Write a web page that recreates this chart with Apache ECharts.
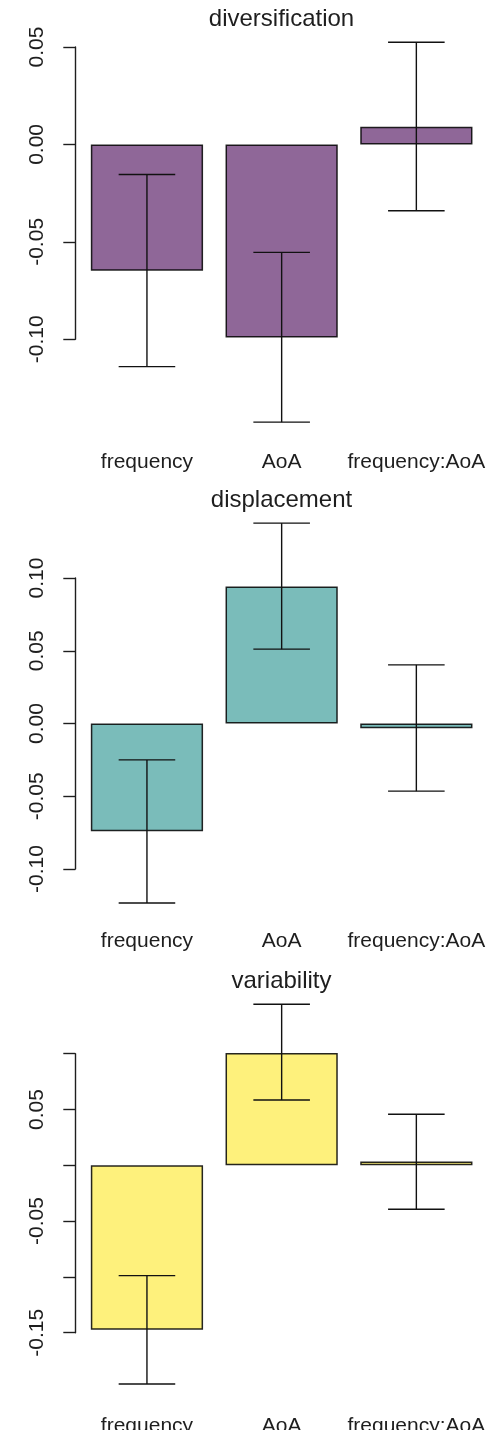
<!DOCTYPE html>
<html>
<head>
<meta charset="utf-8">
<script src="https://cdn.jsdelivr.net/npm/echarts@6/dist/echarts.min.js"></script>
<style>
html,body{margin:0;padding:0;background:#fff;overflow:hidden;}
#chart{width:492px;height:1430px;}
</style>
</head>
<body>
<div id="chart"></div>
<script>
// ---- data ----
var categories = ['frequency', 'AoA', 'frequency:AoA'];
var panelTitles = ['diversification', 'displacement', 'variability'];

var divEstimate = [-0.0648, -0.0991, 0.0091];
var divLower    = [-0.1140, -0.1425, -0.0340];
var divUpper    = [-0.0154, -0.0554, 0.0524];

var dispEstimate = [-0.0741, 0.0942, -0.0033];
var dispLower    = [-0.1234, 0.0511, -0.0465];
var dispUpper    = [-0.0250, 0.1377, 0.0403];

var varEstimate = [-0.1473, 0.1016, 0.0033];
var varLower    = [-0.1960, 0.0585, -0.0394];
var varUpper    = [-0.0989, 0.1443, 0.0457];

var divTickLabels  = ['-0.10', '-0.05', '0.00', '0.05'];
var dispTickLabels = ['-0.10', '-0.05', '0.00', '0.05', '0.10'];
var varTickLabels  = ['-0.15', '-0.05', '0.05'];

// ---- build ----
var panels = [
  {title: panelTitles[0], est: divEstimate, lo: divLower, hi: divUpper, labels: divTickLabels,
   min: -0.10, max: 0.05, color: '#8F6798', top: 47, height: 292.3, titleTop: 2.5, labelMargin: 112},
  {title: panelTitles[1], est: dispEstimate, lo: dispLower, hi: dispUpper, labels: dispTickLabels,
   min: -0.10, max: 0.10, color: '#7ABCBA', top: 578, height: 291, titleTop: 483, labelMargin: 62},
  {title: panelTitles[2], est: varEstimate, lo: varLower, hi: varUpper, labels: varTickLabels,
   min: -0.15, max: 0.10, color: '#FEF17C', top: 1053.7, height: 279, titleTop: 964, labelMargin: 83}
];

var FONT = '"Liberation Sans", Arial, sans-serif';
var INK = '#1e1e1e';

var option = {
  animation: false,
  backgroundColor: '#fff',
  title: [], grid: [], xAxis: [], yAxis: [], series: []
};

panels.forEach(function (p, i) {
  option.title.push({
    text: p.title, left: 276.5, top: p.titleTop, textAlign: 'center',
    textStyle: {fontFamily: FONT, fontSize: 24, fontWeight: 'normal', color: INK}
  });
  option.grid.push({left: 79.6, width: 404.1, top: p.top, height: p.height,
    containLabel: false, outerBoundsMode: 'none'});
  option.xAxis.push({
    type: 'category', gridIndex: i, data: categories, boundaryGap: true,
    axisLine: {show: false, onZero: false}, axisTick: {show: false}, splitLine: {show: false},
    axisLabel: {interval: 0, margin: p.labelMargin, fontFamily: FONT, fontSize: 21, color: INK, hideOverlap: false}
  });
  (function (labels) {
    option.yAxis.push({
      type: 'value', gridIndex: i, min: p.min, max: p.max, interval: 0.05, offset: 4.3,
      splitLine: {show: false},
      axisLine: {show: true, onZero: false, lineStyle: {color: INK, width: 1.4}},
      axisTick: {show: true, length: 12, lineStyle: {color: INK, width: 1.4}},
      axisLabel: {
        rotate: 90, margin: 28, fontFamily: FONT, fontSize: 21, color: INK,
        formatter: function (v) {
          var s = (Math.abs(v) < 1e-9 ? 0 : v).toFixed(2);
          return labels.indexOf(s) >= 0 ? s : '';
        }
      }
    });
  })(p.labels);
  option.series.push({
    type: 'bar', xAxisIndex: i, yAxisIndex: i, data: p.est, barWidth: '83.33%',
    itemStyle: {color: p.color, borderColor: 'rgba(0,0,0,0.85)', borderWidth: 1.5},
    silent: true, z: 2
  });
  var errData = p.est.map(function (_, k) { return [k, p.lo[k], p.hi[k]]; });
  option.series.push({
    type: 'custom', xAxisIndex: i, yAxisIndex: i, data: errData, clip: false, z: 5, silent: true,
    encode: {x: 0, y: [1, 2]},
    renderItem: function (params, api) {
      var x = api.value(0);
      var pLo = api.coord([x, api.value(1)]);
      var pHi = api.coord([x, api.value(2)]);
      var half = api.size([1, 0])[0] * 0.21;
      var style = {stroke: '#111', lineWidth: 1.4, fill: null};
      return {
        type: 'group',
        children: [
          {type: 'line', shape: {x1: pLo[0], y1: pLo[1], x2: pHi[0], y2: pHi[1]}, style: style},
          {type: 'line', shape: {x1: pLo[0] - half, y1: pLo[1], x2: pLo[0] + half, y2: pLo[1]}, style: style},
          {type: 'line', shape: {x1: pHi[0] - half, y1: pHi[1], x2: pHi[0] + half, y2: pHi[1]}, style: style}
        ]
      };
    }
  });
});

var chart = echarts.init(document.getElementById('chart'), null, {renderer: 'canvas'});
chart.setOption(option);
</script>
</body>
</html>
